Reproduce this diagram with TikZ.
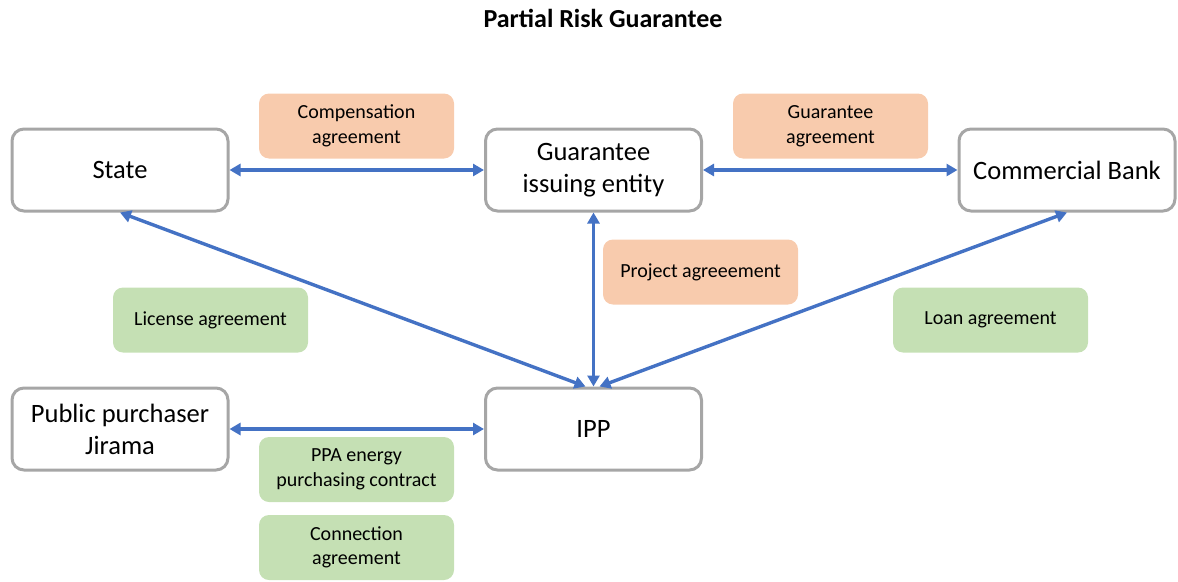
\documentclass[tikz,border=0pt]{standalone}
\usepackage{fontspec}
\setmainfont{Carlito}
\usetikzlibrary{arrows.meta}
\definecolor{boxgray}{HTML}{A6A6A6}
\definecolor{orangefill}{HTML}{F8CBAD}
\definecolor{greenfill}{HTML}{C5E0B4}
\definecolor{arrowblue}{HTML}{4472C4}
\begin{document}
\begin{tikzpicture}[x=1pt,y=-1pt,
  party/.style={draw=boxgray,line width=3pt,fill=white,rounded corners=12pt,
    minimum width=216pt,minimum height=82pt,inner sep=0pt,align=center,
    font=\fontsize{26.5}{32}\selectfont},
  agree/.style={rounded corners=10pt,minimum width=195pt,minimum height=65pt,
    inner sep=0pt,align=center,font=\fontsize{20}{24.5}\selectfont},
  orangebox/.style={agree,fill=orangefill},
  greenbox/.style={agree,fill=greenfill},
  link/.style={draw=arrowblue,line width=3.4pt,{Triangle[length=11pt,width=12pt]}-{Triangle[length=11pt,width=12pt]}},
  title/.style={font=\bfseries\fontsize{26}{30}\selectfont}
]
\useasboundingbox (0,0) rectangle (1178,581);
\node[title] (t) at (603,18) {Partial Risk Guarantee};

\node[party] (state) at (120,170) {State};
\node[party] (gie) at (593.5,170) {Guarantee\\issuing entity};
\node[party] (bank) at (1067,170) {Commercial Bank};
\node[party] (jirama) at (120,429) {Public purchaser\\Jirama};
\node[party] (ipp) at (593.5,429) {IPP};

\node[orangebox] (comp) at (356.5,126) {Compensation\\agreement};
\node[orangebox] (guar) at (830.5,126) {Guarantee\\agreement};
\node[orangebox] (proj) at (700.5,272) {Project agreeement};
\node[greenbox] (lic) at (210.5,320) {License agreement};
\node[greenbox] (loan) at (990.5,320) {Loan agreement};
\node[greenbox] (ppa) at (356.5,469.5) {PPA energy\\purchasing contract};
\node[greenbox] (conn) at (356.5,547.5) {Connection\\agreement};

\coordinate (ippL) at ([xshift=-8pt]ipp.north);
\coordinate (ippR) at ([xshift=6pt]ipp.north);

\draw[link] (state.east) -- (gie.west);
\draw[link] (gie.east) -- (bank.west);
\draw[link] (gie.south) -- (ipp.north);
\draw[link] (state.south) -- (ippL);
\draw[link] (bank.south) -- (ippR);
\draw[link] (jirama.east) -- (ipp.west);
\end{tikzpicture}
\end{document}
